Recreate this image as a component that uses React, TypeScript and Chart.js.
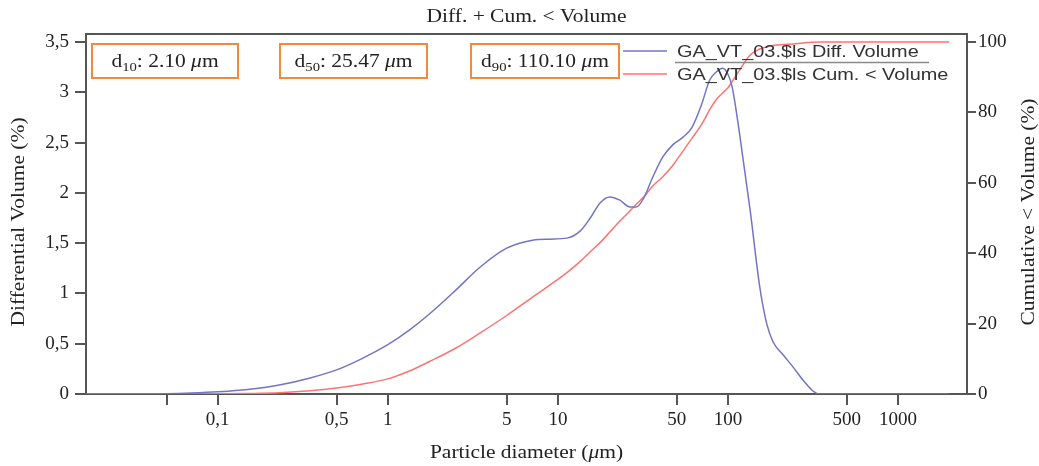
import React, { useEffect, useRef } from 'react';
import { Chart, registerables } from 'chart.js';

Chart.register(...registerables);

// Particle diameters (µm)
const sizes = [
  0.017, 0.03, 0.05, 0.07, 0.1, 0.15, 0.23, 0.35, 0.5, 0.7, 1, 1.35, 1.77, 2.5, 3.48, 5, 7.1, 9, 11.3,
  13.5, 15.5, 17.7, 20.2, 23, 26.5, 29, 32, 36, 41.5, 47.5, 54, 61.4, 70, 78, 85, 93, 100, 106, 117,
  135, 154, 169, 184, 211, 241, 276, 316, 348, 400, 600, 1000, 2000,
];

// Differential volume (%)
const diffVolume = [
  0, 0, 0.003, 0.01, 0.022, 0.045, 0.09, 0.16, 0.24, 0.35, 0.49, 0.64, 0.8, 1.03, 1.26, 1.45, 1.53, 1.54,
  1.55, 1.62, 1.75, 1.9, 1.96, 1.93, 1.86, 1.86, 1.95, 2.15, 2.36, 2.48, 2.55, 2.65, 2.88, 3.12, 3.2, 3.24,
  3.18, 3.05, 2.59, 1.83, 1.06, 0.7, 0.52, 0.39, 0.27, 0.14, 0.03, 0, 0, 0, 0, 0,
];

// Cumulative < volume (%)
const cumVolume = [
  0, 0, 0, 0.02, 0.06, 0.15, 0.35, 0.9, 1.7, 2.8, 4.3, 6.6, 9.3, 13, 17.3, 22.3, 27.5, 31, 34.5, 37.6,
  40.4, 43, 46, 49, 52, 54, 56, 59, 61.8, 65, 68.8, 72.6, 76.6, 80.7, 83.5, 85.5, 87, 88.8, 92, 96.3, 98,
  98.6, 99, 99.3, 99.4, 99.7, 99.9, 100, 100, 100, 100, 100,
];

const xTickValues = [0.05, 0.1, 0.5, 1, 5, 10, 50, 100, 500, 1000];
const xTickLabels = ['', '0,1', '0,5', '1', '5', '10', '50', '100', '500', '1000'];
const leftTickValues = [0, 0.5, 1, 1.5, 2, 2.5, 3, 3.5];
const leftTickLabels = ['0', '0,5', '1', '1,5', '2', '2,5', '3', '3,5'];
const rightTickValues = [0, 20, 40, 60, 80, 100];
const rightTickLabels = ['0', '20', '40', '60', '80', '100'];

const dSubscripts = ['10', '50', '90'];
const dValues = ['2.10', '25.47', '110.10'];
const seriesNames = ['GA_VT_03.$ls Diff. Volume', 'GA_VT_03.$ls Cum. < Volume'];
const chartTitle = 'Diff. + Cum. < Volume';
const leftTitle = 'Differential Volume (%)';
const rightTitle = 'Cumulative < Volume (%)';

const BLUE = '#7474c6';
const RED = '#ff7272';
const AXIS = '#555555';
const TEXT = '#222222';
const ORANGE = '#f18b3b';
const SERIF = '"Liberation Serif", "Times New Roman", serif';
const SANS = '"Liberation Sans", Arial, sans-serif';
const SX = 1.13; // horizontal stretch to mimic the wider serif face

type Part = { t: string; font: string; dy?: number };

// Draws mixed-font text centred on (cx, cy) (alphabetic baseline), stretched horizontally by SX
function drawParts(ctx: CanvasRenderingContext2D, parts: Part[], cx: number, cy: number, baseline: CanvasTextBaseline = 'alphabetic') {
  let total = 0;
  for (const p of parts) {
    ctx.font = p.font;
    total += ctx.measureText(p.t).width;
  }
  ctx.save();
  ctx.translate(cx, cy);
  ctx.scale(SX, 1);
  let x = -total / 2;
  ctx.textAlign = 'left';
  ctx.textBaseline = baseline;
  for (const p of parts) {
    ctx.font = p.font;
    ctx.fillText(p.t, x, p.dy || 0);
    x += ctx.measureText(p.t).width;
  }
  ctx.restore();
}

const overlayPlugin = {
  id: 'overlay',
  afterDraw(chart: any) {
    const ctx: CanvasRenderingContext2D = chart.ctx;
    const a = chart.chartArea;
    ctx.save();
    // top frame line
    ctx.strokeStyle = AXIS;
    ctx.lineWidth = 2;
    ctx.beginPath();
    ctx.moveTo(a.left - 1, a.top);
    ctx.lineTo(a.right + 1, a.top);
    ctx.stroke();

    ctx.fillStyle = TEXT;
    const F = `19px ${SERIF}`;
    const FI = `italic 19px ${SERIF}`;
    // chart title
    drawParts(ctx, [{ t: chartTitle, font: F }], (a.left + a.right) / 2, 17, 'middle');

    // x title
    drawParts(
      ctx,
      [
        { t: 'Particle diameter (', font: F },
        { t: 'μ', font: FI },
        { t: 'm)', font: F },
      ],
      (a.left + a.right) / 2,
      458
    );

    // y titles (rotated, read bottom to top)
    ctx.save();
    ctx.translate(19, 222);
    ctx.rotate(-Math.PI / 2);
    drawParts(ctx, [{ t: leftTitle, font: F }], 0, 0, 'middle');
    ctx.restore();
    ctx.save();
    ctx.translate(1029, 212);
    ctx.rotate(-Math.PI / 2);
    drawParts(ctx, [{ t: rightTitle, font: F }], 0, 0, 'middle');
    ctx.restore();

    // d-value boxes
    const boxes = [
      [92, 238],
      [280, 427],
      [471, 619],
    ];
    boxes.forEach(([x0, x1], i) => {
      ctx.strokeStyle = ORANGE;
      ctx.lineWidth = 2;
      ctx.strokeRect(x0, 44, x1 - x0, 34);
      ctx.fillStyle = TEXT;
      drawParts(
        ctx,
        [
          { t: 'd', font: F },
          { t: dSubscripts[i], font: `13px ${SERIF}`, dy: 4 },
          { t: ': ' + dValues[i] + ' ', font: F },
          { t: 'μ', font: FI },
          { t: 'm', font: F },
        ],
        (x0 + x1) / 2,
        67
      );
    });

    // legend
    const rows = [51, 74];
    const colors = [BLUE, RED];
    rows.forEach((y, i) => {
      ctx.strokeStyle = colors[i];
      ctx.lineWidth = 1.5;
      ctx.beginPath();
      ctx.moveTo(623, y);
      ctx.lineTo(667, y);
      ctx.stroke();
      ctx.save();
      ctx.translate(677, y + 1);
      ctx.scale(1.17, 1);
      ctx.fillStyle = '#333333';
      ctx.font = `17px ${SANS}`;
      ctx.textAlign = 'left';
      ctx.textBaseline = 'middle';
      ctx.fillText(seriesNames[i], 0, 0);
      ctx.restore();
    });
    ctx.strokeStyle = '#8a8a8a';
    ctx.lineWidth = 1.5;
    ctx.beginPath();
    ctx.moveTo(675, 62.5);
    ctx.lineTo(929, 62.5);
    ctx.stroke();

    ctx.restore();
  },
};

export default function App() {
  const ref = useRef<HTMLCanvasElement | null>(null);

  useEffect(() => {
    document.body.style.margin = '0';
    const canvas = ref.current;
    if (!canvas) return;
    const tickFont = { family: SERIF, size: 19 };
    const chart = new Chart(canvas, {
      type: 'line',
      data: {
        datasets: [
          {
            label: seriesNames[0],
            data: sizes.map((s, i) => ({ x: s, y: diffVolume[i] })),
            yAxisID: 'y',
            borderColor: BLUE,
            borderWidth: 1.5,
            pointRadius: 0,
            cubicInterpolationMode: 'monotone',
            fill: false,
          },
          {
            label: seriesNames[1],
            data: sizes.map((s, i) => ({ x: s, y: cumVolume[i] })),
            yAxisID: 'y1',
            borderColor: RED,
            borderWidth: 1.5,
            pointRadius: 0,
            cubicInterpolationMode: 'monotone',
            fill: false,
          },
        ],
      },
      options: {
        animation: false,
        responsive: false,
        devicePixelRatio: 1,
        layout: { padding: { top: 34, left: 0, right: 0, bottom: 0 } },
        plugins: {
          legend: { display: false },
          title: { display: false },
          tooltip: { enabled: false },
        },
        scales: {
          x: {
            type: 'logarithmic',
            position: 'bottom',
            min: 0.0168,
            max: 2545,
            afterFit: (s: any) => {
              s.height = 72;
            },
            afterBuildTicks: (s: any) => {
              s.ticks = xTickValues.map((v) => ({ value: v }));
            },
            ticks: {
              autoSkip: false,
              maxRotation: 0,
              padding: 4,
              color: TEXT,
              font: tickFont,
              callback: (v: any) => {
                const i = xTickValues.indexOf(Number(v));
                return i >= 0 ? xTickLabels[i] : '';
              },
            },
            grid: { drawOnChartArea: false, drawTicks: true, tickLength: 11, color: AXIS, lineWidth: 2 },
            border: { color: AXIS, width: 2 },
          },
          y: {
            type: 'linear',
            position: 'left',
            min: 0,
            max: 3.58,
            afterFit: (s: any) => {
              s.width = 86;
            },
            afterBuildTicks: (s: any) => {
              s.ticks = leftTickValues.map((v) => ({ value: v }));
            },
            ticks: {
              padding: 6,
              color: TEXT,
              font: tickFont,
              callback: (v: any) => {
                const i = leftTickValues.indexOf(Number(v));
                return i >= 0 ? leftTickLabels[i] : '';
              },
            },
            grid: { drawOnChartArea: false, drawTicks: true, tickLength: 11, color: AXIS, lineWidth: 2 },
            border: { color: AXIS, width: 2 },
          },
          y1: {
            type: 'linear',
            position: 'right',
            min: 0,
            max: 102.27,
            afterFit: (s: any) => {
              s.width = 72;
            },
            afterBuildTicks: (s: any) => {
              s.ticks = rightTickValues.map((v) => ({ value: v }));
            },
            ticks: {
              padding: 2,
              color: TEXT,
              font: tickFont,
              callback: (v: any) => {
                const i = rightTickValues.indexOf(Number(v));
                return i >= 0 ? rightTickLabels[i] : '';
              },
            },
            grid: { drawOnChartArea: false, drawTicks: true, tickLength: 9, color: AXIS, lineWidth: 2 },
            border: { color: AXIS, width: 2 },
          },
        },
      },
      plugins: [overlayPlugin],
    } as any);
    return () => chart.destroy();
  }, []);

  return (
    <div style={{ position: 'absolute', left: 0, top: 0, width: 1039, height: 466, background: '#fff' }}>
      <canvas ref={ref} width={1039} height={466} style={{ width: 1039, height: 466, display: 'block' }} />
    </div>
  );
}
